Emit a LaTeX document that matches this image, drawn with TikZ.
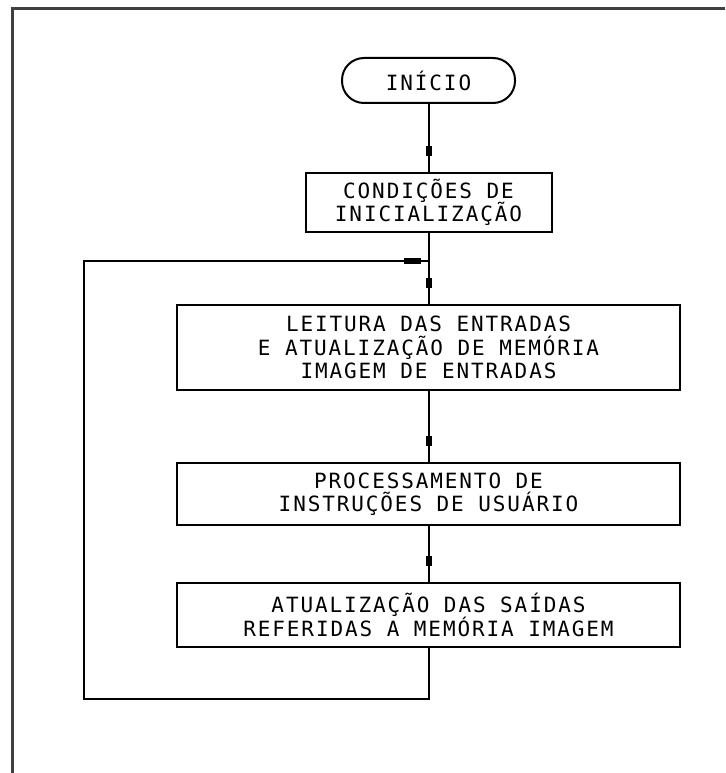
\documentclass[tikz,border=0pt]{standalone}
\usepackage{fontspec}
\setmonofont[LetterSpace=9]{DejaVu Sans Mono}
\usetikzlibrary{decorations.markings}
\tikzset{
  box/.style={draw, line width=2pt, rectangle, inner sep=0pt, align=center,
    font=\ttfamily\fontsize{21}{23.5}\selectfont},
  term/.style={box, rounded corners=22pt},
  flow/.style={line width=2pt, postaction={decorate},
    decoration={markings, mark=at position -16pt with {\fill (-10pt,-3pt) rectangle (0pt,3pt);}}},
  loopflow/.style={line width=2pt, postaction={decorate},
    decoration={markings, mark=at position -8pt with {\fill (-17pt,-2.6pt) rectangle (0pt,2.6pt);}}},
}
\begin{document}
\begin{tikzpicture}[x=1pt,y=-1pt]
\useasboundingbox (0,0) rectangle (725,773);
\draw[line width=3pt, draw=black!75] (12,773) -- (12,9) -- (725,9);
\node[term, minimum width=173pt, minimum height=45pt] (start) at (428.5,80.5) {INÍCIO};
\node[box, minimum width=246pt, minimum height=59pt] (init) at (428.5,202.5) {CONDIÇÕES DE\\INICIALIZAÇÃO};
\node[box, minimum width=503pt, minimum height=85pt] (read) at (428.5,347.5) {LEITURA DAS ENTRADAS\\E ATUALIZAÇÃO DE MEMÓRIA\\IMAGEM DE ENTRADAS};
\node[box, minimum width=503pt, minimum height=62pt] (proc) at (428.5,494) {PROCESSAMENTO DE\\INSTRUÇÕES DE USUÁRIO};
\node[box, minimum width=503pt, minimum height=64pt] (upd) at (428.5,615) {ATUALIZAÇÃO DAS SAÍDAS\\REFERIDAS A MEMÓRIA IMAGEM};
\coordinate (j) at (428.5,261);
\coordinate (bl) at (84,699);
\coordinate (tl) at (84,261);
\draw[flow] (start.south) -- (init.north);
\draw[line width=2pt] (init.south) -- (j);
\draw[flow] (j) -- (read.north);
\draw[flow] (read.south) -- (proc.north);
\draw[flow] (proc.south) -- (upd.north);
\draw[loopflow] (upd.south) |- (bl) -- (tl) -- (j);
\end{tikzpicture}
\end{document}
